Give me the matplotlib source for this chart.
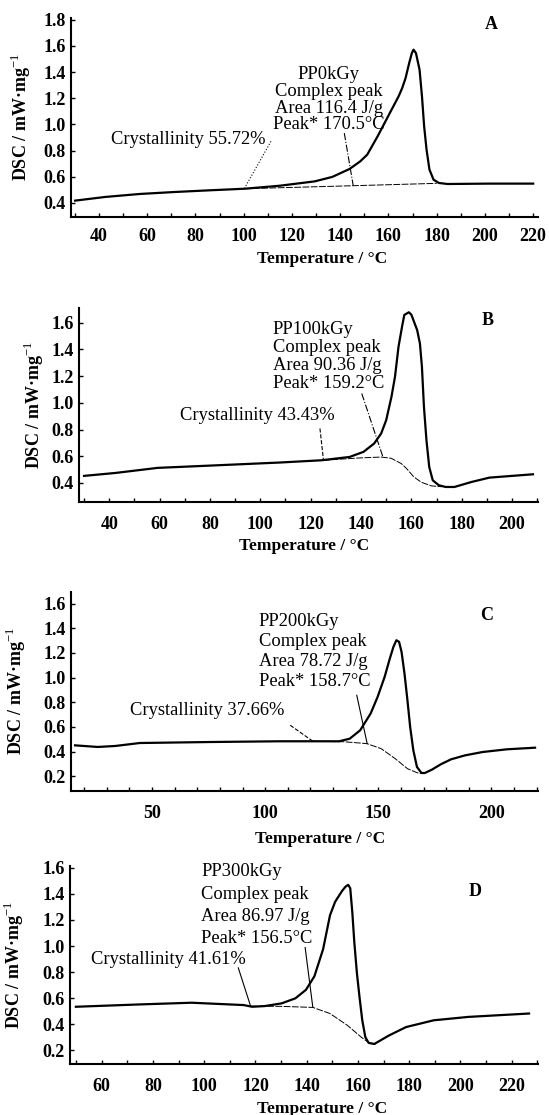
import numpy as np
import matplotlib
matplotlib.use("Agg")
import matplotlib.pyplot as plt
from matplotlib.ticker import MultipleLocator

plt.rcParams["font.family"] = ["Liberation Serif", "DejaVu Serif"]
plt.rcParams["mathtext.fontset"] = "custom"
plt.rcParams["mathtext.rm"] = "Liberation Serif"
plt.rcParams["mathtext.bf"] = "Liberation Serif:bold"

# ---------------- panel A : PP0kGy ----------------
a_temp = [30.1, 42.5, 57.0, 71.4, 86.0, 100.4, 115.0, 129.4, 136.7, 143.9, 148.3, 151.2,
          155.5, 158.4, 161.3, 164.2, 165.7, 167.1, 168.6, 169.7, 170.4, 171.4, 172.9,
          173.9, 174.8, 175.8, 177.0, 178.7, 180.9, 184.5, 201.9, 220.0]
a_dsc = [0.418, 0.446, 0.469, 0.484, 0.497, 0.509, 0.532, 0.565, 0.599, 0.660, 0.718, 0.769,
         0.909, 1.011, 1.113, 1.214, 1.278, 1.354, 1.469, 1.545, 1.571, 1.545, 1.418,
         1.214, 0.985, 0.807, 0.655, 0.578, 0.553, 0.545, 0.548, 0.548]
a_base_temp = [100.4, 145.4, 180.0]
a_base_dsc = [0.509, 0.532, 0.550]
a_lines = ["PP0kGy", "Complex peak", "Area 116.4 J/g", "Peak* 170.5°C"]
a_crys = "Crystallinity 55.72%"

# ---------------- panel B : PP100kGy ----------------
b_temp = [30.0, 42.5, 59.2, 80.0, 107.7, 124.4, 135.5, 141.0, 145.2, 148.0, 150.0, 152.1,
          153.5, 154.9, 156.3, 157.2, 159.0, 160.0, 161.2, 162.3, 163.4, 164.2, 165.0,
          166.0, 167.1, 168.5, 170.9, 173.6, 177.1, 184.0, 191.0, 208.3]
b_dsc = [0.453, 0.475, 0.513, 0.530, 0.553, 0.570, 0.595, 0.633, 0.695, 0.770, 0.870, 1.045,
         1.195, 1.420, 1.570, 1.658, 1.678, 1.660, 1.600, 1.545, 1.445, 1.270, 0.970,
         0.720, 0.520, 0.420, 0.383, 0.370, 0.370, 0.408, 0.440, 0.465]
b_base_temp = [125.0, 140.0, 148.0, 152.0, 156.0, 158.0, 161.0, 164.0, 168.0, 172.0]
b_base_dsc = [0.570, 0.588, 0.594, 0.585, 0.545, 0.510, 0.445, 0.405, 0.378, 0.372]
b_lines = ["PP100kGy", "Complex peak", "Area 90.36 J/g", "Peak* 159.2°C"]
b_crys = "Crystallinity 43.43%"

# ---------------- panel C : PP200kGy ----------------
c_temp = [16.0, 26.0, 33.8, 44.6, 75.5, 106.4, 132.7, 137.4, 142.0, 146.6, 149.7, 152.8,
          155.1, 156.7, 158.0, 159.2, 160.3, 161.6, 162.9, 164.1, 165.5, 167.1, 169.1,
          170.6, 173.7, 177.6, 182.2, 188.4, 196.1, 206.9, 219.3]
c_dsc = [0.451, 0.438, 0.446, 0.470, 0.478, 0.484, 0.484, 0.505, 0.573, 0.708, 0.843, 1.005,
         1.154, 1.249, 1.303, 1.290, 1.208, 1.032, 0.816, 0.600, 0.411, 0.276, 0.227,
         0.227, 0.254, 0.297, 0.338, 0.370, 0.397, 0.419, 0.432]
c_base_temp = [121.0, 135.0, 145.0, 151.3, 157.5, 162.9, 167.5, 170.0]
c_base_dsc = [0.484, 0.480, 0.465, 0.424, 0.343, 0.262, 0.227, 0.222]
c_lines = ["PP200kGy", "Complex peak", "Area 78.72 J/g", "Peak* 158.7°C"]
c_crys = "Crystallinity 37.66%"

# ---------------- panel D : PP300kGy ----------------
d_temp = [49.9, 74.9, 95.1, 115.4, 118.7, 123.5, 130.2, 135.6, 139.7, 143.0, 146.4, 149.1,
          151.1, 153.8, 155.2, 156.2, 157.0, 157.8, 158.6, 159.6, 160.6, 161.7, 162.9,
          164.2, 166.4, 172.1, 178.8, 189.6, 203.1, 226.8]
d_dsc = [0.533, 0.551, 0.564, 0.546, 0.533, 0.538, 0.559, 0.598, 0.663, 0.767, 0.975, 1.236,
         1.340, 1.423, 1.457, 1.470, 1.444, 1.262, 1.027, 0.793, 0.611, 0.429, 0.299,
         0.255, 0.247, 0.312, 0.377, 0.429, 0.455, 0.481]
d_base_temp = [118.1, 130.0, 142.4, 149.1, 155.9, 161.3, 164.6, 167.0]
d_base_dsc = [0.538, 0.536, 0.528, 0.481, 0.390, 0.299, 0.252, 0.247]
d_lines = ["PP300kGy", "Complex peak", "Area 86.97 J/g", "Peak* 156.5°C"]
d_crys = "Crystallinity 41.61%"

# leader lines (x0, y0, x1, y1) : crystallinity, peak
a_leaders = [(111.3, 0.871, 100.4, 0.515), (141.7, 0.934, 145.4, 0.532)]
b_leaders = [(123.7, 0.808, 125.1, 0.570), (140.3, 1.070, 148.7, 0.595)]
c_leaders = [(111.1, 0.614, 121.1, 0.484), (140.5, 0.857, 145.1, 0.465)]
d_leaders = [(113.3, 0.832, 118.1, 0.538), (139.4, 0.988, 142.4, 0.528)]

W, H = 549, 1115
TXT = 13.3


def px_axes(fig, left, top, right, bottom):
    """add axes given pixel box of the reference image"""
    return fig.add_axes([left / W, 1 - bottom / H, (right - left) / W, (bottom - top) / H])


def style_axes(ax, xlim, ylim, xmajor, ymin_tick, ymax_tick, xpad=8):
    ax.set_xlim(*xlim)
    ax.set_ylim(*ylim)
    for s in ["top", "right"]:
        ax.spines[s].set_visible(False)
    for s in ["left", "bottom"]:
        ax.spines[s].set_linewidth(1.5)
    ax.xaxis.set_major_locator(MultipleLocator(xmajor))
    ax.xaxis.set_minor_locator(MultipleLocator(10))
    ax.set_yticks(np.round(np.arange(ymin_tick, ymax_tick + 0.01, 0.2), 1))
    ax.set_yticklabels([f"{v:.1f}" for v in ax.get_yticks()])
    ax.tick_params(axis="x", which="both", direction="in", length=3, width=1, pad=xpad,
                   labelsize=13)
    ax.tick_params(axis="y", which="both", direction="in", length=3, width=1, pad=4,
                   labelsize=13)
    for lab in ax.get_xticklabels() + ax.get_yticklabels():
        lab.set_fontweight("bold")


def draw_panel(ax, temp, dsc, btemp, bdsc, leaders, styles):
    ax.plot(temp, dsc, color="black", lw=1.6)
    ax.plot(btemp, bdsc, color="black", lw=0.7, linestyle=(0, (7, 1.5)))
    for (x0, y0, x1, y1), ls in zip(leaders, styles):
        ax.plot([x0, x1], [y0, y1], color="black", lw=0.8, linestyle=ls)


def labels(ax, xlab_pos, ylab_x):
    ax.set_xlabel("Temperature / °C", fontsize=12.5, fontweight="bold")
    ax.xaxis.set_label_coords(*xlab_pos)
    ax.set_ylabel("DSC / mW·mg$^{-1}$", fontsize=13, fontweight="bold")
    ax.yaxis.set_label_coords(ylab_x, 0.5)


fig = plt.figure(figsize=(W / 100, H / 100), dpi=100)

# A
ax = px_axes(fig, 71, 18, 538, 217)
style_axes(ax, (28.4, 222), (0.293, 1.813), 20, 0.4, 1.8, xpad=8)
draw_panel(ax, a_temp, a_dsc, a_base_temp, a_base_dsc, a_leaders, [":", "-."])
for txt, y in zip(a_lines, [1.38, 1.255, 1.125, 0.998]):
    ax.text(135.2, y, txt, ha="center", va="center", fontsize=TXT)
ax.text(45.1, 0.884, a_crys, ha="left", va="center", fontsize=TXT)
ax.text(202.6, 1.762, "A", ha="center", va="center", fontsize=13, fontweight="bold")
labels(ax, (0.537, -0.171), -0.081)

# B
ax = px_axes(fig, 79, 308, 538, 502)
style_axes(ax, (28, 210.3), (0.2575, 1.71), 20, 0.4, 1.6, xpad=10)
draw_panel(ax, b_temp, b_dsc, b_base_temp, b_base_dsc, b_leaders, ["--", "-."])
for txt, y in zip(b_lines, [1.55, 1.415, 1.28, 1.145]):
    ax.text(104.9, y, txt, ha="left", va="center", fontsize=TXT)
ax.text(68.2, 0.9075, b_crys, ha="left", va="center", fontsize=TXT)
ax.text(190.3, 1.615, "B", ha="center", va="center", fontsize=13, fontweight="bold")
labels(ax, (0.49, -0.186), -0.072)

# C
ax = px_axes(fig, 71, 592, 538, 791)
style_axes(ax, (14.2, 220.6), (0.081, 1.694), 50, 0.2, 1.6, xpad=10)
draw_panel(ax, c_temp, c_dsc, c_base_temp, c_base_dsc, c_leaders, ["--", "-"])
for txt, y in zip(c_lines, [1.451, 1.289, 1.127, 0.965]):
    ax.text(97.2, y, txt, ha="left", va="center", fontsize=TXT)
ax.text(40.3, 0.735, c_crys, ha="left", va="center", fontsize=TXT)
ax.text(197.7, 1.505, "C", ha="center", va="center", fontsize=13, fontweight="bold")
labels(ax, (0.533, -0.201), -0.092)

# D
ax = px_axes(fig, 70, 866, 538, 1064)
style_axes(ax, (47.6, 230.3), (0.093, 1.615), 20, 0.2, 1.6, xpad=10)
draw_panel(ax, d_temp, d_dsc, d_base_temp, d_base_dsc, d_leaders, ["-", "-"])
for txt, y in zip(d_lines, [1.569, 1.397, 1.226, 1.054]):
    ax.text(98.9, y, txt, ha="left", va="center", fontsize=TXT)
ax.text(55.7, 0.897, d_crys, ha="left", va="center", fontsize=TXT)
ax.text(205.8, 1.418, "D", ha="center", va="center", fontsize=13, fontweight="bold")
labels(ax, (0.538, -0.187), -0.094)

fig.savefig("out.png", dpi=100)
